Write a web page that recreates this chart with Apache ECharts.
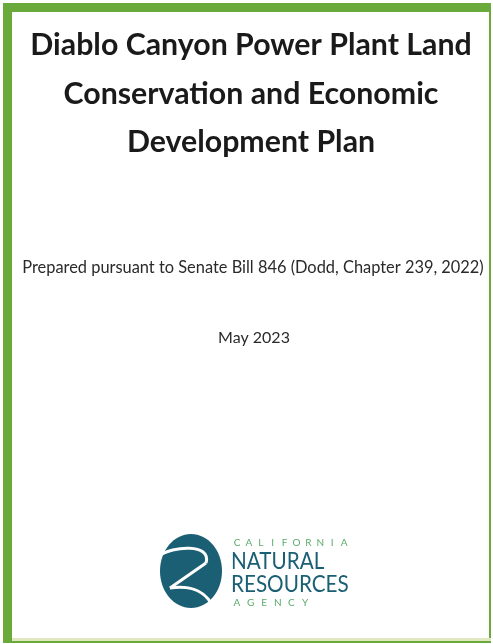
<!DOCTYPE html>
<html>
<head>
<meta charset="utf-8">
<script src="https://cdn.jsdelivr.net/npm/echarts@6/dist/echarts.min.js"></script>
<style>
html,body{margin:0;padding:0;background:#fff;}
#c{width:493px;height:644px;}
</style>
</head>
<body>
<div id="c"></div>
<script>
var titleLines = ["Diablo Canyon Power Plant Land", "Conservation and Economic", "Development Plan"];
var subtitle = "Prepared pursuant to Senate Bill 846 (Dodd, Chapter 239, 2022)";
var dateText = "May 2023";
var agencyLines = ["CALIFORNIA", "NATURAL", "RESOURCES", "AGENCY"];

var chart = echarts.init(document.getElementById('c'), null, {renderer: 'canvas'});
var green = '#6aaa3a';
var teal = '#1a5f73';
var lightGreen = '#5bab6b';
var cx = 251;
var titleY = [45, 94, 142];

var g = [];
// borders
g.push({type:'rect', shape:{x:3, y:3, width:487, height:9}, style:{fill:green}});
g.push({type:'rect', shape:{x:3, y:3, width:9, height:639}, style:{fill:green}});
g.push({type:'rect', shape:{x:489, y:3, width:2, height:638}, style:{fill:green}});
g.push({type:'rect', shape:{x:12, y:638, width:479, height:3}, style:{fill:'#dfe8bf'}});
g.push({type:'rect', shape:{x:3, y:641, width:488, height:2}, style:{fill:green}});

titleLines.forEach(function(t, i){
  g.push({type:'text', x:cx, y:titleY[i], style:{text:t, fill:'#1a1a1a', font:'bold 30.3px Lato', textAlign:'center', textVerticalAlign:'middle'}});
});
g.push({type:'text', x:cx+2, y:268, style:{text:subtitle, fill:'#2a2a2a', font:'16.4px Lato', textAlign:'center', textVerticalAlign:'middle'}});
g.push({type:'text', x:cx+3, y:338, style:{text:dateText, fill:'#2a2a2a', font:'16px Lato', textAlign:'center', textVerticalAlign:'middle'}});

// logo
var wave = {fill:'none', stroke:'#fff', lineWidth:3};
g.push({type:'ellipse', shape:{cx:191, cy:571, rx:31, ry:37}, style:{fill:teal}});
g.push({type:'bezierCurve', shape:{x1:159, y1:556, cpx1:172, cpy1:546, cpx2:212, cpy2:543, x2:206, y2:563}, style:wave});
g.push({type:'line', shape:{x1:206, y1:563, x2:170, y2:588}, style:wave});
g.push({type:'bezierCurve', shape:{x1:170, y1:588, cpx1:192, cpy1:585, cpx2:208, cpy2:592, x2:214, y2:610}, style:wave});

function spaced(word, x0, pitch, y) {
  word.split('').forEach(function(ch, i){
    g.push({type:'text', x:x0 + i*pitch, y:y, style:{text:ch, fill:lightGreen, font:'10px Lato', textAlign:'center', textVerticalAlign:'middle'}});
  });
}
spaced(agencyLines[0], 237, 11.9, 543);
g.push({type:'text', x:231, y:561, scaleX:0.88, originX:0, originY:0, style:{text:agencyLines[1], fill:teal, font:'23.5px Lato', textAlign:'left', textVerticalAlign:'middle'}});
g.push({type:'text', x:231, y:584, scaleX:0.88, originX:0, originY:0, style:{text:agencyLines[2], fill:teal, font:'23.5px Lato', textAlign:'left', textVerticalAlign:'middle'}});
spaced(agencyLines[3], 237, 13.6, 603);

chart.setOption({animation:false, backgroundColor:'#fff', graphic:g});
</script>
</body>
</html>
